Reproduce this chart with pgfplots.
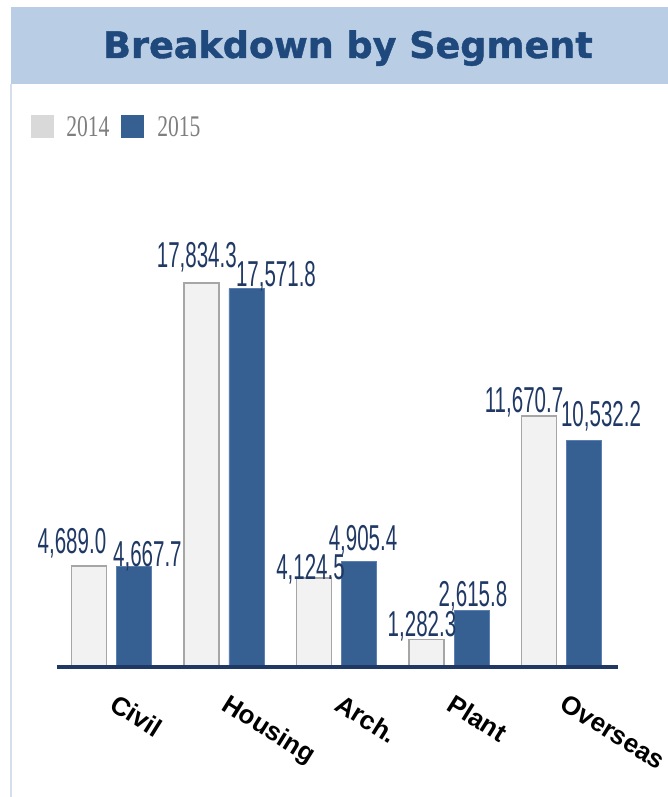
\documentclass[border=0pt]{standalone}
\usepackage{fontspec}
\setmainfont{Liberation Sans}
\newfontfamily\titlefont{DejaVu Sans}[BoldFeatures={FakeBold=1.2}]
\newfontfamily\legfont{Liberation Serif}
\usepackage{pgfplots}
\pgfplotsset{compat=1.18}
\usepackage{pgfplotstable}
\definecolor{band}{HTML}{B9CDE5}
\definecolor{titleblue}{HTML}{1F497D}
\definecolor{navy}{HTML}{1F3864}
\definecolor{labblue}{HTML}{1F3864}
\definecolor{bluebar}{HTML}{376092}
\definecolor{bluebord}{HTML}{5B7FAE}
\definecolor{graybar}{HTML}{F2F2F2}
\definecolor{graybord}{HTML}{A6A6A6}
\definecolor{leggray}{HTML}{D9D9D9}
\definecolor{legtext}{HTML}{7F7F7F}
\definecolor{sideline}{HTML}{D5DFEC}

\pgfplotstableread{
x y dx dy
0 4689.0 -12.75 9.75
1 17834.3 -3.5 12
2 4124.5 -2.6 -0.75
3 1282.3 -3.4 2.25
4 11670.7 -11.25 2.25
}\datafourteen
\pgfplotstableread{
x y dx dy
0 4667.7 10.1 0
1 17571.8 22.1 1.5
2 4905.4 3 8.25
3 2615.8 1.1 3
4 10532.2 12.75 10.5
}\datafifteen

\begin{document}
\begin{tikzpicture}
\path[use as bounding box] (0,0) rectangle (501pt,597.75pt);
% title band
\fill[band] (8.25pt,534.75pt) rectangle (501pt,592.5pt);
\draw[sideline, line width=1pt] (8.25pt,534.75pt) -- (8.25pt,0pt);
\node[anchor=base, inner sep=0pt, text=titleblue] at (261pt,554.25pt)
  {\fontsize{27.4}{30}\titlefont\bfseries Breakdown by Segment};
% legend
\fill[leggray] (23.25pt,494.25pt) rectangle (40.5pt,511.5pt);
\node[anchor=base west, inner sep=0pt, text=legtext] at (49.5pt,495pt)
  {\scalebox{0.72}[1]{\fontsize{22.5}{24}\legfont 2014}};
\fill[bluebar] (90.75pt,494.25pt) rectangle (108pt,511.5pt);
\node[anchor=base west, inner sep=0pt, text=legtext] at (117.75pt,495pt)
  {\scalebox{0.72}[1]{\fontsize{22.5}{24}\legfont 2015}};

\begin{axis}[
  at={(42.75pt,97.5pt)}, anchor=south west,
  scale only axis, width=420.75pt, height=322.97pt,
  xmin=-0.484, xmax=4.502, ymin=0, ymax=20000,
  axis x line=bottom, axis y line=none,
  x axis line style={-, line width=3pt, navy},
  axis on top,
  ytick=\empty,
  xtick=data,
  xticklabels={Civil,Housing,Arch.,Plant,Overseas},
  xtick style={draw=none},
  xticklabel style={font=\fontsize{19.5}{21}\selectfont\bfseries, text=black,
     yshift=-15pt, xshift=5pt, rotate=-32, anchor=north west, inner sep=0pt},
  clip=false,
  ybar, bar width=26.25pt,
  /pgf/number format/assume math mode=true,
  nodes near coords={\scalebox{0.57}[1]{\fontsize{27}{28}\selectfont\pgfmathprintnumber[fixed,fixed zerofill,precision=1,1000 sep={,}]{\pgfplotspointmeta}}},
  visualization depends on={\thisrow{dx} \as \mydx},
  visualization depends on={\thisrow{dy} \as \mydy},
  every node near coord/.append style={anchor=base, inner sep=0pt, text=labblue, xshift=\mydx pt, yshift=\mydy pt},
]
\addplot[bar shift=-16.875pt, fill=graybar, draw=graybord, line width=1.3pt] table[x=x,y=y] {\datafourteen};
\addplot[bar shift=16.875pt, fill=bluebar, draw=bluebord, line width=0.6pt] table[x=x,y=y] {\datafifteen};
\end{axis}
\end{tikzpicture}
\end{document}
